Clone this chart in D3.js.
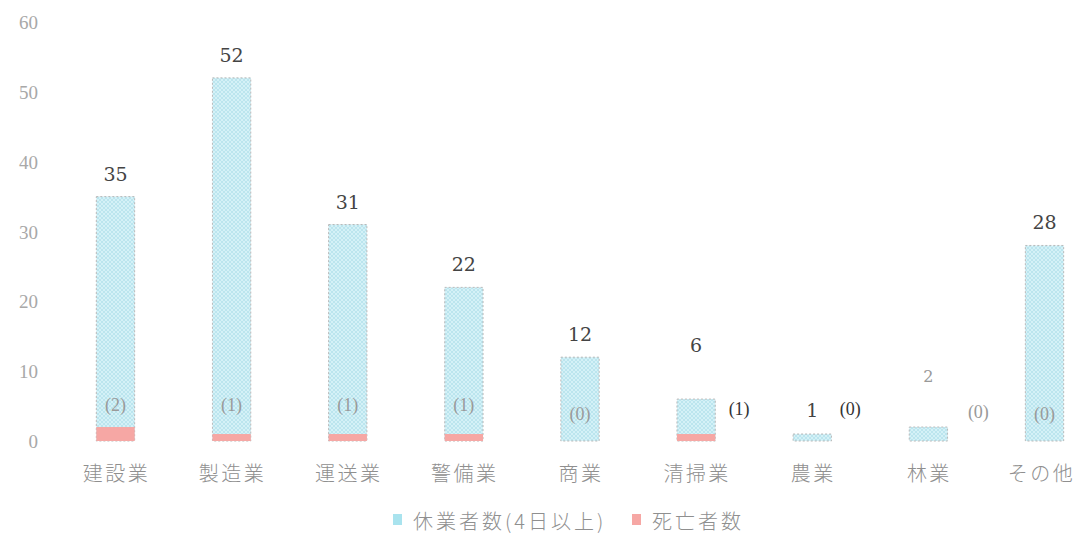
<!DOCTYPE html>
<html><head><meta charset="utf-8">
<script src="https://cdn.jsdelivr.net/npm/d3@7"></script>
<style>body{margin:0;background:#fff}svg{display:block}</style>
</head><body>
<svg id="c" width="1078" height="535"></svg>
<script>
const categories = ["建設業","製造業","運送業","警備業","商業","清掃業","農業","林業","その他"];
const absences = [35,52,31,22,12,6,1,2,28];
const deaths = [2,1,1,1,0,1,0,0,0];
const yTicks = [0,10,20,30,40,50,60];
const legendLabels = ["休業者数(4日以上)","死亡者数"];

const svg = d3.select("#c");
const defs = svg.append("defs");
const pat = defs.append("pattern").attr("id","hatch").attr("patternUnits","userSpaceOnUse").attr("width",4).attr("height",4);
pat.append("rect").attr("width",4).attr("height",4).attr("fill","#d4f1f7");
pat.append("path").attr("d","M0,0L4,4M4,0L0,4").attr("stroke","#b5e2ec").attr("stroke-width",0.8);

const y = d3.scaleLinear().domain([0,60]).range([441,22]);
const x = d3.scaleBand().domain(categories).range([58,1102]).paddingInner(0.67).paddingOuter(0.33);

// y axis labels
const yAxis = d3.axisLeft(y).tickValues(yTicks).tickSize(0).tickPadding(0);
const ga = svg.append("g").attr("transform","translate(38,0)").call(yAxis);
ga.select(".domain").remove();
ga.selectAll("text").attr("font-family","Liberation Serif, serif").attr("font-size",19).attr("fill","#a8a8a8").attr("dy","0.35em");

// bars
const data = categories.map((c,i)=>({c, v:absences[i], d:deaths[i], i}));
const g = svg.append("g");
g.selectAll("rect.a").data(data).join("rect").attr("class","a")
  .attr("x",d=>x(d.c)).attr("width",x.bandwidth())
  .attr("y",d=>y(d.v)).attr("height",d=>y(0)-y(d.v))
  .attr("fill","url(#hatch)").attr("stroke","#b9b9b9").attr("stroke-width",1).attr("stroke-dasharray","2,2");
g.selectAll("rect.d").data(data.filter(d=>d.d>0)).join("rect").attr("class","d")
  .attr("x",d=>x(d.c)).attr("width",x.bandwidth())
  .attr("y",d=>y(d.d)).attr("height",d=>y(0)-y(d.d))
  .attr("fill","#f6a7a4");

// value labels
const small = d => d.v>=2 && d.v<5;
const valY = d => d.v >= 10 ? y(d.v) - 16 : (d.v >= 5 ? y(12) - 5 : (d.v >= 2 ? y(8.5) : y(3.5)));
g.selectAll("text.v").data(data).join("text").attr("class","v")
  .attr("x",d=>x(d.c)+x.bandwidth()/2).attr("y",valY)
  .attr("text-anchor","middle").attr("font-family","DejaVu Serif, serif")
  .attr("font-size",d=>small(d) ? 16 : 19)
  .attr("fill",d=>small(d)?"#999":"#444").text(d=>d.v);

// death labels
const inside = d => d.v >= 10;
g.selectAll("text.d").data(data).join("text").attr("class","d")
  .attr("x",d=> inside(d) ? x(d.c)+x.bandwidth()/2 : (small(d) ? x(d.c)+x.bandwidth()/2+50 : x(d.c)+x.bandwidth()/2 + (d.v<2?38:43)))
  .attr("y",d=> inside(d) ? (d.d>0? 411 : 420) : (small(d) ? 418 : 415))
  .attr("text-anchor","middle").attr("font-family","Liberation Serif, serif")
  .attr("font-size",18)
  .attr("fill",d=> inside(d) ? "#9a9a9a" : (small(d) ? "#999" : "#333"))
  .text(d=>"("+d.d+")");

// category labels
g.selectAll("text.c").data(data).join("text").attr("class","c")
  .attr("x",(d,i)=>x(d.c)+x.bandwidth()/2 + (i===categories.length-1 ? -3 : 1)).attr("y",481)
  .attr("text-anchor","middle").attr("font-family","Noto Sans CJK JP, sans-serif")
  .attr("font-size",20).attr("letter-spacing",2.5).attr("font-weight",300).attr("fill","#8f8f8f").text(d=>d.c);

// legend
const leg = svg.append("g");
const lx = [393, 632], lc = ["#a9e3ee","#f6a7a4"];
legendLabels.forEach((t,i)=>{
  leg.append("rect").attr("x",lx[i]).attr("y",514).attr("width",9).attr("height",11).attr("fill",lc[i]);
  leg.append("text").attr("x",lx[i]+20).attr("y",529).attr("font-family","Noto Sans CJK JP, sans-serif")
    .attr("font-size",20).attr("letter-spacing",3).attr("font-weight",300).attr("fill","#8f8f8f").text(t);
});
</script>
</body></html>
